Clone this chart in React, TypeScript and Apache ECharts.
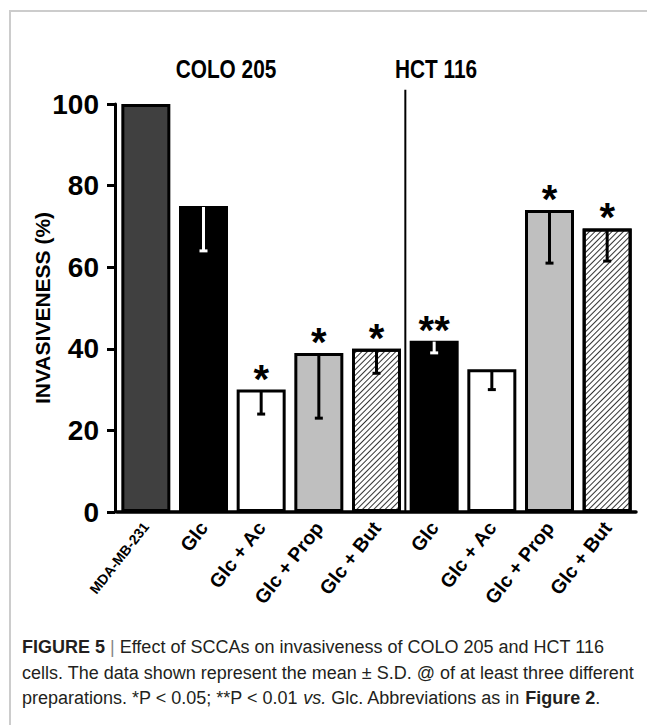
import React, { useEffect, useRef } from 'react';
import * as echarts from 'echarts';

// ---- data ----
const categories = ['MDA-MB-231', 'Glc', 'Glc + Ac', 'Glc + Prop', 'Glc + But', 'Glc', 'Glc + Ac', 'Glc + Prop', 'Glc + But'];
const invasiveness = [100, 75, 30, 39, 40, 42, 35, 74, 69.5];
const sdDown = [0, 11, 6, 16, 6, 3, 5, 13, 8];
const significance = ['', '', '*', '*', '*', '**', '', '*', '*'];
const groupLabels = ['COLO 205', 'HCT 116'];
const yAxisTitle = 'INVASIVENESS (%)';
const captionLines = [
  '{b|FIGURE 5} {g||} Effect of SCCAs on invasiveness of COLO 205 and HCT 116',
  'cells. The data shown represent the mean ± S.D. @ of at least three different',
  'preparations. *P < 0.05; **P < 0.01 {i|vs.} Glc. Abbreviations as in {b|Figure 2}.',
];

// ---- styles ----
const FONT = '"Liberation Sans", Arial, Helvetica, sans-serif';
const FILLS = ['#404040', '#000000', '#ffffff', '#bfbfbf', 'hatch', '#000000', '#ffffff', '#bfbfbf', 'hatch'];
const HATCH = {
  symbol: 'rect',
  symbolSize: 1,
  color: 'rgba(0,0,0,0.8)',
  dashArrayX: [1, 0],
  dashArrayY: [1, 3],
  rotation: -Math.PI / 4,
};
const CAP_SIZE = 18;

export default function App() {
  const ref = useRef<HTMLDivElement>(null);

  useEffect(() => {
    document.body.style.margin = '0';
    const chart = echarts.init(ref.current!, null, { renderer: 'svg' });

    const option: any = {
      animation: false,
      backgroundColor: '#ffffff',
      grid: { left: 117, right: 11, top: 104, bottom: 213, containLabel: false },
      xAxis: {
        type: 'category',
        data: categories.map((c, i) => ({
          value: c,
          textStyle: i === 0 ? { fontSize: 14 } : { fontSize: 19.5 },
        })),
        boundaryGap: true,
        axisLine: { lineStyle: { color: '#000', width: 3.5 } },
        axisTick: { show: false },
        axisLabel: {
          interval: 0,
          rotate: 52,
          margin: 12,
          color: '#000',
          fontWeight: 'bold',
          fontFamily: FONT,
        },
        splitLine: { show: false },
      },
      yAxis: {
        type: 'value',
        min: 0,
        max: 100,
        interval: 20,
        offset: 2,
        name: yAxisTitle,
        nameLocation: 'middle',
        nameGap: 62,
        nameMoveOverlap: false,
        nameRotate: 90,
        nameTextStyle: { color: '#000', fontSize: 21, fontWeight: 'bold', fontFamily: FONT },
        axisLine: { show: true, lineStyle: { color: '#000', width: 3 } },
        axisTick: { show: true, length: 8, lineStyle: { color: '#000', width: 3 } },
        axisLabel: { color: '#000', fontSize: 28, fontWeight: 'bold', fontFamily: FONT, margin: 16 },
        splitLine: { show: false },
      },
      series: [
        {
          type: 'bar',
          barWidth: 49,
          data: invasiveness.map((v, i) => ({
            value: v,
            itemStyle:
              FILLS[i] === 'hatch'
                ? { color: '#ffffff', decal: HATCH }
                : { color: FILLS[i] },
          })),
          itemStyle: { borderColor: '#000', borderWidth: 3 },
          z: 2,
        },
        {
          type: 'custom',
          z: 5,
          encode: { x: 0, y: 1 },
          data: invasiveness.map((v, i) => [i, v, sdDown[i]]),
          renderItem: (params: any, api: any) => {
            const i = api.value(0);
            const v = api.value(1);
            const e = api.value(2);
            const top = api.coord([i, v]);
            const bot = api.coord([i, v - e]);
            const col = FILLS[i] === '#000000' ? '#ffffff' : '#000000';
            const children: any[] = [];
            if (e > 0) {
              children.push({
                type: 'line',
                shape: { x1: top[0], y1: top[1] + 1, x2: top[0], y2: bot[1] },
                style: { stroke: col, lineWidth: 3 },
              });
              children.push({
                type: 'line',
                shape: { x1: top[0] - 4, y1: bot[1], x2: top[0] + 4, y2: bot[1] },
                style: { stroke: col, lineWidth: 3 },
              });
            }
            const s = significance[i];
            if (s) {
              children.push({
                type: 'text',
                style: {
                  x: top[0],
                  y: top[1] - 11,
                  text: s,
                  fill: '#000',
                  fontSize: 40,
                  fontWeight: 'bold',
                  fontFamily: FONT,
                  align: 'center',
                  verticalAlign: 'middle',
                },
              });
            }
            return { type: 'group', children };
          },
        },
      ],
    };

    chart.setOption(option);

    const xa = chart.convertToPixel({ xAxisIndex: 0 }, 4) as number;
    const xb = chart.convertToPixel({ xAxisIndex: 0 }, 5) as number;
    const yTop = chart.convertToPixel({ yAxisIndex: 0 }, 103.5) as number;
    const yBot = chart.convertToPixel({ yAxisIndex: 0 }, 0) as number;
    const divX = (xa + xb) / 2;

    const captionEls = captionLines.map((t, k) => ({
      type: 'text',
      x: 22,
      y: 647 + k * 25.5,
      style: {
        text: t,
        fill: '#231f20',
        fontSize: CAP_SIZE,
        fontFamily: FONT,
        textVerticalAlign: 'middle',
        rich: {
          b: { fontWeight: 'bold', fontSize: CAP_SIZE, fontFamily: FONT, fill: '#231f20' },
          g: { fontSize: CAP_SIZE, fontFamily: FONT, fill: '#888' },
          i: { fontStyle: 'italic', fontSize: CAP_SIZE, fontFamily: FONT, fill: '#231f20' },
        },
      },
    }));

    const title = (text: string, x: number) => ({
      type: 'text',
      x,
      y: 69,
      scaleX: 0.8,
      style: {
        text,
        fill: '#000',
        fontSize: 26,
        fontWeight: 'bold',
        fontFamily: FONT,
        textAlign: 'center',
        textVerticalAlign: 'middle',
      },
    });

    chart.setOption({
      graphic: [
        {
          type: 'rect',
          shape: { x: 10, y: 11, width: 700, height: 800 },
          style: { fill: 'none', stroke: '#cccccc', lineWidth: 2 },
          z: 0,
        },
        {
          type: 'line',
          shape: { x1: divX, y1: yTop, x2: divX, y2: yBot },
          style: { stroke: '#000', lineWidth: 2 },
          z: 10,
        },
        title(groupLabels[0], 226),
        title(groupLabels[1], 436),
        ...captionEls,
      ],
    });

    return () => chart.dispose();
  }, []);

  return <div ref={ref} style={{ width: 647, height: 725 }} />;
}
